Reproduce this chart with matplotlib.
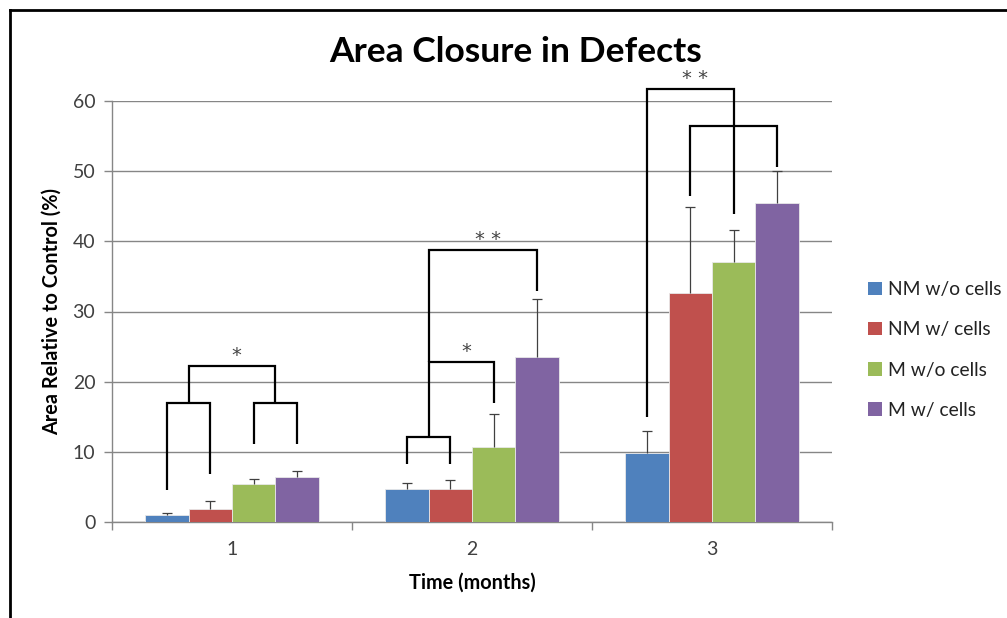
import matplotlib
matplotlib.use('Agg')
import matplotlib.pyplot as plt
from matplotlib.lines import Line2D
from matplotlib.patches import Patch
import numpy as np

plt.rcParams['font.family'] = ['Lato', 'DejaVu Sans']

months = [1, 2, 3]
series = ['NM w/o cells', 'NM w/ cells', 'M w/o cells', 'M w/ cells']
colors = ['#4F81BD', '#C0504D', '#9BBB59', '#8064A2']

nm_wo = [1.0, 4.7, 9.9]
nm_w = [1.9, 4.7, 32.6]
m_wo = [5.4, 10.7, 37.0]
m_w = [6.45, 23.45, 45.4]

nm_wo_err = [0.3, 0.8, 3.1]
nm_w_err = [1.1, 1.3, 12.3]
m_wo_err = [0.7, 4.7, 4.55]
m_w_err = [0.75, 8.35, 4.6]

values = [nm_wo, nm_w, m_wo, m_w]
errors = [nm_wo_err, nm_w_err, m_wo_err, m_w_err]

# significance brackets: group, left slot, right slot, left foot, right foot, top, label
brackets = [
    (1, 0, 1, 4.6, 6.8, 16.9, ''),
    (1, 2, 3, 11.1, 11.1, 16.9, ''),
    (1, 0.5, 2.5, 16.9, 16.9, 22.3, '*'),
    (2, 0, 1, 8.2, 8.2, 12.1, ''),
    (2, 0.5, 2, 12.1, 16.9, 22.8, '*'),
    (2, 0.5, 3, 22.8, 32.9, 38.8, '* *'),
    (3, 0, 2, 14.9, 43.9, 61.7, '* *'),
    (3, 1, 3, 46.4, 50.6, 56.5, ''),
]

W, H = 1007, 618
fig = plt.figure(figsize=(W / 100, H / 100), dpi=100)
ax = fig.add_axes([112 / W, (H - 522) / H, 720 / W, 421 / H])

width = 0.181
cap = 0.021
x = np.array(months, dtype=float)
for i, (vals, errs) in enumerate(zip(values, errors)):
    pos = x + (i - 1.5) * width
    ax.bar(pos, vals, width, color=colors[i], edgecolor='#e8e8e8', linewidth=0.6,
           label=series[i], zorder=3)
    tops = np.array(vals) + np.array(errs)
    ax.vlines(pos, vals, tops, color='#404040', lw=0.9, zorder=4)
    ax.hlines(tops, pos - cap, pos + cap, color='#404040', lw=0.9, zorder=4)


def slot_x(g, s):
    return g + (s - 1.5) * width


for g, sl, sr, yl, yr, yt, lab in brackets:
    xl, xr = slot_x(g, sl), slot_x(g, sr)
    ax.plot([xl, xl, xr, xr], [yl, yt, yt, yr], color='black', lw=1.6,
            solid_capstyle='butt', solid_joinstyle='miter', clip_on=False, zorder=5)
    if lab:
        ax.text((xl + xr) / 2 + 0.02, yt + 1.5, lab, ha='center', va='center',
                fontsize=14, color='#444444', family='DejaVu Sans',
                clip_on=False, zorder=6)

ax.set_xlim(0.5, 3.5)
ax.set_ylim(0, 60)
ax.set_yticks(range(0, 61, 10))
ax.set_xticks(months)
ax.set_xticks([0.5, 1.5, 2.5, 3.5], minor=True)
ax.tick_params(axis='x', which='major', length=0, pad=14, labelsize=14, labelcolor='#404040')
ax.tick_params(axis='x', which='minor', length=6, color='#868686', width=1)
ax.tick_params(axis='y', length=6, color='#868686', width=1, pad=6,
               labelsize=14, labelcolor='#404040')
ax.grid(axis='y', color='#868686', linewidth=1, zorder=0)
ax.set_axisbelow(True)
for side in ['top', 'right']:
    ax.spines[side].set_visible(False)
for side in ['left', 'bottom']:
    ax.spines[side].set_color('#868686')
    ax.spines[side].set_linewidth(1)

ax.set_xlabel('Time (months)', fontsize=14.3, fontweight='bold', labelpad=10)
ax.set_ylabel('Area Relative to Control (%)', fontsize=14.3, fontweight='bold', labelpad=8)

fig.text(516 / W, 1 - 52 / H, 'Area Closure in Defects', ha='center', va='center',
         fontsize=25.5, fontweight='bold')

handles = [Patch(facecolor=c, edgecolor='none') for c in colors]
leg = fig.legend(handles, series, loc='center left', bbox_to_anchor=(851 / W, 1 - 350 / H),
                 frameon=False, fontsize=13.9, handlelength=0.7, handleheight=0.7,
                 handletextpad=0.3, labelspacing=1.2, labelcolor='#222222')

# outer frame (left and top edges visible)
fig.add_artist(Line2D([10 / W, 10 / W], [0, 1 - 10 / H], color='black', lw=2))
fig.add_artist(Line2D([10 / W, 1], [1 - 10 / H, 1 - 10 / H], color='black', lw=2))

fig.savefig('out.png', dpi=100)
